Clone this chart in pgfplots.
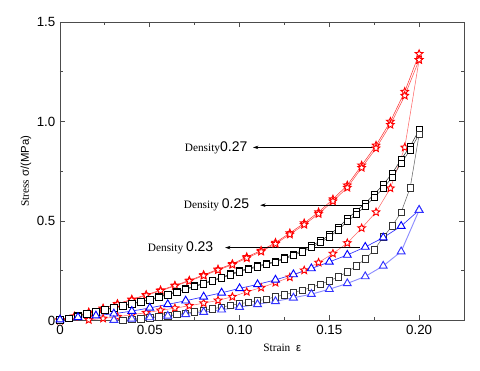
\documentclass[border=0pt]{standalone}
\usepackage{fontspec}
\setmainfont{Liberation Serif}
\setsansfont{Liberation Sans}
\usepackage{pgfplots}
\usepackage{pgfplotstable}
\pgfplotsset{compat=1.18}
\usetikzlibrary{arrows.meta}

% open five-pointed star
\pgfdeclareplotmark{ostar}{%
  \pgfpathmoveto{\pgfpointpolar{90}{\pgfplotmarksize}}%
  \pgfpathlineto{\pgfpointpolar{126}{0.45\pgfplotmarksize}}%
  \pgfpathlineto{\pgfpointpolar{162}{\pgfplotmarksize}}%
  \pgfpathlineto{\pgfpointpolar{198}{0.45\pgfplotmarksize}}%
  \pgfpathlineto{\pgfpointpolar{234}{\pgfplotmarksize}}%
  \pgfpathlineto{\pgfpointpolar{270}{0.45\pgfplotmarksize}}%
  \pgfpathlineto{\pgfpointpolar{306}{\pgfplotmarksize}}%
  \pgfpathlineto{\pgfpointpolar{342}{0.45\pgfplotmarksize}}%
  \pgfpathlineto{\pgfpointpolar{18}{\pgfplotmarksize}}%
  \pgfpathlineto{\pgfpointpolar{54}{0.45\pgfplotmarksize}}%
  \pgfpathclose
  \pgfusepathqfillstroke}

% density 0.27 (red stars)
\pgfplotstableread{
x y
0.000 0.000
0.008 0.022
0.016 0.042
0.024 0.062
0.032 0.085
0.040 0.107
0.048 0.130
0.056 0.153
0.064 0.177
0.072 0.202
0.080 0.230
0.088 0.258
0.096 0.285
0.104 0.320
0.112 0.352
0.120 0.392
0.128 0.440
0.136 0.490
0.144 0.545
0.152 0.610
0.160 0.680
0.168 0.780
0.176 0.880
0.184 1.000
0.192 1.150
0.200 1.340
}\redupA
\pgfplotstableread{
x y
0.000 0.004
0.008 0.020
0.016 0.040
0.024 0.060
0.032 0.082
0.040 0.104
0.048 0.127
0.056 0.150
0.064 0.174
0.072 0.199
0.080 0.226
0.088 0.254
0.096 0.281
0.104 0.314
0.112 0.347
0.120 0.386
0.128 0.433
0.136 0.482
0.144 0.536
0.152 0.600
0.160 0.668
0.168 0.768
0.176 0.866
0.184 0.984
0.192 1.130
0.200 1.310
}\redupB
\pgfplotstableread{
x y
0.200 1.310
0.192 0.870
0.184 0.665
0.176 0.545
0.168 0.465
0.160 0.390
0.152 0.337
0.144 0.292
0.136 0.253
0.128 0.218
0.120 0.191
0.112 0.166
0.104 0.145
0.096 0.120
0.088 0.102
0.080 0.088
0.072 0.075
0.064 0.063
0.056 0.052
0.048 0.040
0.040 0.030
0.032 0.020
0.024 0.011
0.016 0.004
}\reddown

% density 0.25 (black squares)
\pgfplotstableread{
x y
0.000 0.000
0.005 0.012
0.010 0.024
0.015 0.035
0.020 0.046
0.025 0.056
0.030 0.066
0.035 0.076
0.040 0.086
0.045 0.096
0.050 0.106
0.055 0.120
0.060 0.133
0.065 0.146
0.070 0.160
0.075 0.174
0.080 0.188
0.085 0.203
0.090 0.218
0.095 0.234
0.100 0.250
0.105 0.262
0.110 0.275
0.115 0.286
0.120 0.298
0.125 0.315
0.130 0.333
0.135 0.353
0.140 0.376
0.145 0.400
0.150 0.430
0.155 0.468
0.160 0.512
0.165 0.550
0.170 0.590
0.175 0.635
0.180 0.683
0.185 0.740
0.190 0.810
0.195 0.875
0.200 0.958
}\blkupA
\pgfplotstableread{
x y
0.000 0.003
0.005 0.011
0.010 0.022
0.015 0.033
0.020 0.044
0.025 0.054
0.030 0.064
0.035 0.074
0.040 0.084
0.045 0.094
0.050 0.104
0.055 0.117
0.060 0.130
0.065 0.143
0.070 0.157
0.075 0.171
0.080 0.185
0.085 0.199
0.090 0.214
0.095 0.230
0.100 0.245
0.105 0.258
0.110 0.270
0.115 0.282
0.120 0.294
0.125 0.310
0.130 0.327
0.135 0.346
0.140 0.368
0.145 0.392
0.150 0.420
0.155 0.456
0.160 0.498
0.165 0.535
0.170 0.575
0.175 0.620
0.180 0.665
0.185 0.720
0.190 0.790
0.195 0.858
0.200 0.935
}\blkupB
\pgfplotstableread{
x y
0.200 0.935
0.195 0.667
0.190 0.545
0.185 0.475
0.180 0.420
0.175 0.355
0.170 0.310
0.165 0.275
0.160 0.245
0.155 0.220
0.150 0.200
0.145 0.183
0.140 0.167
0.135 0.153
0.130 0.142
0.125 0.130
0.120 0.120
0.115 0.108
0.110 0.100
0.105 0.092
0.100 0.085
0.095 0.077
0.090 0.068
0.085 0.060
0.080 0.052
0.075 0.045
0.070 0.037
0.065 0.030
0.060 0.024
0.055 0.018
0.050 0.013
0.045 0.009
0.040 0.005
0.035 0.002
}\blkdown

% density 0.23 (blue triangles)
\pgfplotstableread{
x y
0.00 0.005
0.01 0.017
0.02 0.025
0.03 0.035
0.04 0.048
0.05 0.064
0.06 0.082
0.07 0.100
0.08 0.120
0.09 0.140
0.10 0.162
0.11 0.182
0.12 0.205
0.13 0.232
0.14 0.262
0.15 0.295
0.16 0.330
0.17 0.370
0.18 0.417
0.19 0.475
0.20 0.555
}\blueup
\pgfplotstableread{
x y
0.20 0.555
0.19 0.347
0.18 0.275
0.17 0.222
0.16 0.187
0.15 0.158
0.14 0.133
0.13 0.115
0.12 0.097
0.11 0.082
0.10 0.068
0.09 0.055
0.08 0.043
0.07 0.032
0.06 0.024
0.05 0.016
0.04 0.009
0.03 0.003
}\bluedown

\begin{document}
\begin{tikzpicture}
\begin{axis}[
  scale only axis, width=303pt, height=224pt,
  xmin=0, xmax=0.225, ymin=0, ymax=1.5,
  xtick={0,0.05,0.10,0.15,0.20},
  xticklabels={0,0.05,0.10,0.15,0.20},
  ytick={0,0.5,1.0,1.5},
  yticklabels={0,0.5,1.0,1.5},
  minor x tick num=1, minor y tick num=1,
  tick align=inside,
  major tick length=4pt, minor tick length=2.5pt,
  axis line style={black!70, line width=0.7pt},
  tick style={black!70, line width=0.6pt},
  tick label style={font=\sffamily\fontsize{10}{12}\selectfont},
  /pgf/number format/assume math mode=true,
  xlabel={\fontsize{8.5}{10}\selectfont Strain\ \ {\sffamily ε}},
  ylabel={\fontsize{8.5}{10}\selectfont Stress {\sffamily σ/(MPa)}},
  xlabel style={at={(axis description cs:0.55,0)}, anchor=north, yshift=-14pt},
  ylabel style={at={(axis description cs:0,0.5)}, anchor=south, yshift=18pt},
  clip=false,
]
% red, density 0.27
\addplot[red!80, line width=0.4pt, mark=ostar, mark size=3pt,
  mark options={draw=red, fill=white, line width=0.7pt, solid}] table {\redupA};
\addplot[red!70, line width=0.4pt, mark=ostar, mark size=3pt,
  mark options={draw=red, fill=white, line width=0.7pt, solid}] table {\redupB};
\addplot[red!60, line width=0.4pt, mark=ostar, mark size=3pt,
  mark options={draw=red, fill=white, line width=0.7pt, solid}] table {\reddown};
% black, density 0.25
\addplot[black!80, line width=0.4pt, mark=square*, mark size=2.4pt,
  mark options={draw=black, fill=white, line width=0.6pt, solid}] table {\blkupA};
\addplot[black!70, line width=0.4pt, mark=square*, mark size=2.4pt,
  mark options={draw=black, fill=white, line width=0.6pt, solid}] table {\blkupB};
\addplot[black!60, line width=0.4pt, mark=square*, mark size=2.4pt,
  mark options={draw=black!80, fill=white, line width=0.6pt, solid}] table {\blkdown};
% blue, density 0.23
\addplot[blue!80, line width=0.5pt, mark=triangle*, mark size=3.4pt,
  mark options={draw=blue, fill=white, line width=0.7pt, solid}] table {\blueup};
\addplot[blue!45, line width=0.7pt, mark=triangle*, mark size=3.4pt,
  mark options={draw=blue!80, fill=white, line width=0.7pt, solid}] table {\bluedown};

% annotations
\draw[-{Stealth[length=4pt,width=2.6pt]}, line width=0.5pt] (axis cs:0.176,0.870) -- (axis cs:0.1075,0.870);
\node[anchor=east, inner sep=0pt] at (axis cs:0.1045,0.870)
  {\fontsize{8.5}{10}\selectfont Density{\sffamily\fontsize{10.5}{12}\selectfont 0.27}};
\draw[-{Stealth[length=4pt,width=2.6pt]}, line width=0.5pt] (axis cs:0.170,0.580) -- (axis cs:0.1115,0.580);
\node[anchor=east, inner sep=0pt] at (axis cs:0.1055,0.580)
  {\fontsize{8.5}{10}\selectfont Density {\sffamily\fontsize{10.5}{12}\selectfont 0.25}};
\draw[-{Stealth[length=4pt,width=2.6pt]}, line width=0.5pt] (axis cs:0.167,0.367) -- (axis cs:0.092,0.367);
\node[anchor=east, inner sep=0pt] at (axis cs:0.0855,0.367)
  {\fontsize{8.5}{10}\selectfont Density {\sffamily\fontsize{10.5}{12}\selectfont 0.23}};
\end{axis}
\path ([xshift=-45pt,yshift=-37.5pt]current axis.south west) rectangle ([xshift=12pt,yshift=16.5pt]current axis.north east);
\end{tikzpicture}
\end{document}
